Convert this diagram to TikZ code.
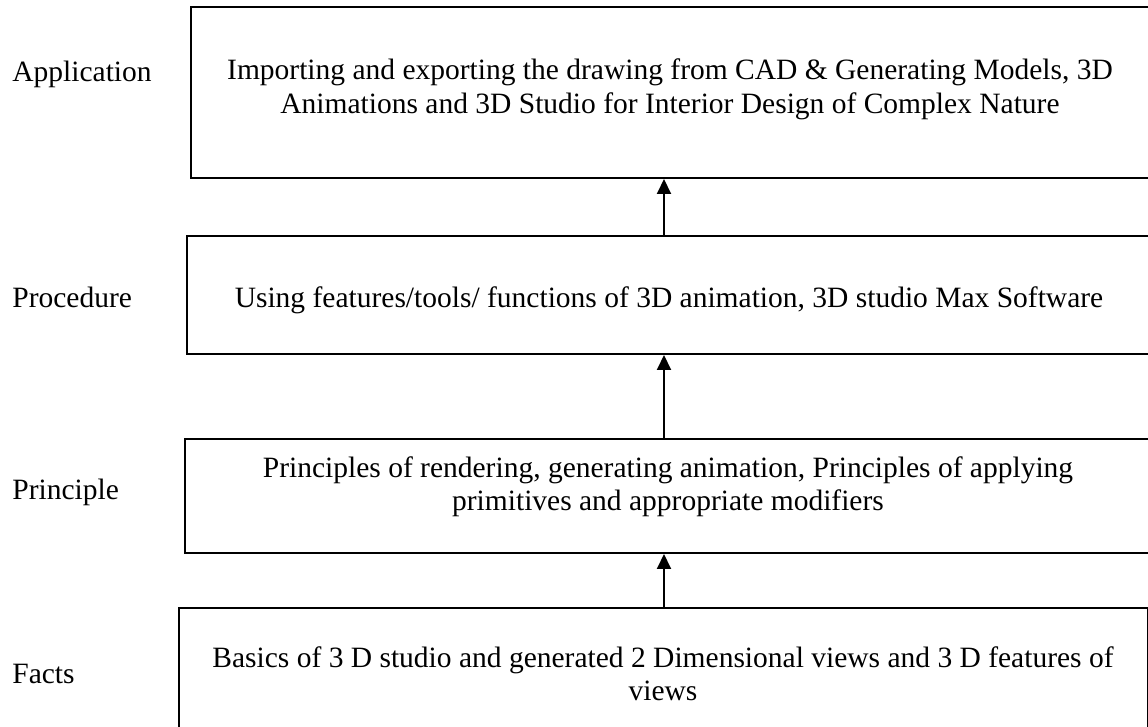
\documentclass[tikz,border=0pt]{standalone}
\usepackage{fontspec}
\setmainfont{Liberation Serif}
\usetikzlibrary{arrows.meta}
\begin{document}
\begin{tikzpicture}[x=0.5pt,y=-0.5pt,
  stage/.style={draw, line width=1pt, rectangle, inner sep=0pt, anchor=north west},
  body/.style={font=\fontsize{14.75}{17}\selectfont, align=center, anchor=base, inner sep=0pt},
  level/.style={font=\fontsize{14.75}{17}\selectfont, anchor=base west, inner sep=0pt},
  upward/.style={line width=1pt, -{Triangle[length=7.5pt,width=7pt]}}]
\useasboundingbox (0,0) rectangle (1148,727);
\clip (0,0) rectangle (1148,727);

% stage boxes
\node[stage, minimum width=485pt, minimum height=85.5pt] (b1) at (190,6) {};
\node[stage, minimum width=487pt, minimum height=59pt] (b2) at (186,235) {};
\node[stage, minimum width=488pt, minimum height=57pt] (b3) at (184,438) {};
\node[stage, minimum width=484.5pt, minimum height=66.5pt] (b4) at (178,607) {};

% box texts (the base anchor sits on the last line)
\node[body] (t1) at (670,114) {Importing and exporting the drawing from CAD \& Generating Models, 3D\\Animations and 3D Studio for Interior Design of Complex Nature};
\node[body] (t2) at (669,308) {Using features/tools/ functions of 3D animation, 3D studio Max Software};
\node[body] (t3) at (668,511) {Principles of rendering, generating animation, Principles of applying\\primitives and appropriate modifiers};
\node[body] (t4) at (663,701) {Basics of 3 D studio and generated 2 Dimensional views and 3 D features of\\views};

% level labels
\node[level] (l1) at (12,82) {Application};
\node[level] (l2) at (12,308) {Procedure};
\node[level] (l3) at (12,500) {Principle};
\node[level] (l4) at (12,683) {Facts};

% arrows between stages
\coordinate (ax) at (664,0);
\draw[upward] (b2.north -| ax) -- (b1.south -| ax);
\draw[upward] (b3.north -| ax) -- (b2.south -| ax);
\draw[upward] (b4.north -| ax) -- (b3.south -| ax);
\end{tikzpicture}
\end{document}
